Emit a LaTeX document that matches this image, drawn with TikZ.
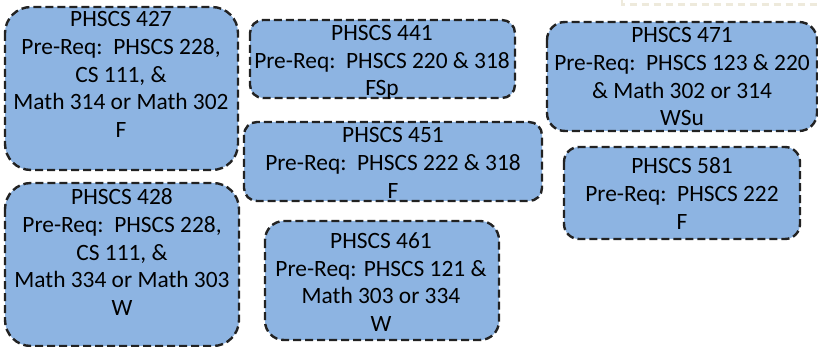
\documentclass[tikz,border=0pt]{standalone}
\usepackage{fontspec}
\setmainfont{Carlito}
\definecolor{boxfill}{HTML}{8DB4E2}
\definecolor{boxline}{HTML}{222222}
\definecolor{faint}{HTML}{EEEADC}
\begin{document}
\begin{tikzpicture}[x=1pt,y=-1pt,
  course/.style={draw=boxline, fill=boxfill, line width=2.4pt, dash pattern=on 8pt off 4pt, inner sep=0pt},
  label/.style={inner sep=0pt, anchor=north, align=center, font=\fontsize{23.4}{27.7}\selectfont}]
\useasboundingbox (0,0) rectangle (818,347);
\draw[faint, line width=2.4pt, dash pattern=on 7pt off 5pt] (622,0) -- (622,4.5) -- (818,4.5);
% boxes
\path[course, rounded corners=26pt] (5,7) rectangle (238,170) coordinate (b427);
\path[course, rounded corners=13pt] (250,20) rectangle (515,98) coordinate (b441);
\path[course, rounded corners=13pt] (244,122) rectangle (542,201) coordinate (b451);
\path[course, rounded corners=18pt] (547,22) rectangle (817,131) coordinate (b471);
\path[course, rounded corners=15pt] (564,147) rectangle (800,239) coordinate (b581);
\path[course, rounded corners=26pt] (5,183) rectangle (239,346) coordinate (b428);
\path[course, rounded corners=19pt] (265,221) rectangle (499,340) coordinate (b461);
% texts
\node[label] (t427) at (121,11.5) {PHSCS 427\\Pre-Req:\ \ PHSCS 228,\\CS 111, \&\\Math 314 or Math 302\\F};
\node[label] (t441) at (382,25) {PHSCS 441\\Pre-Req:\ \ PHSCS 220 \& 318\\FSp};
\node[label] (t451) at (393,127.5) {PHSCS 451\\Pre-Req:\ \ PHSCS 222 \& 318\\F};
\node[label] (t471) at (682,27.5) {PHSCS 471\\Pre-Req:\ \ PHSCS 123 \& 220\\\& Math 302 or 314\\WSu};
\node[label] (t581) at (682,157.5) {PHSCS 581\\Pre-Req:\ \ PHSCS 222\\F};
\node[label] (t428) at (122,188.5) {PHSCS 428\\Pre-Req:\ \ PHSCS 228,\\CS 111, \&\\Math 334 or Math 303\\W};
\node[label] (t461) at (381,232.5) {PHSCS 461\\Pre-Req: PHSCS 121 \&\\Math 303 or 334\\W};
\end{tikzpicture}
\end{document}
